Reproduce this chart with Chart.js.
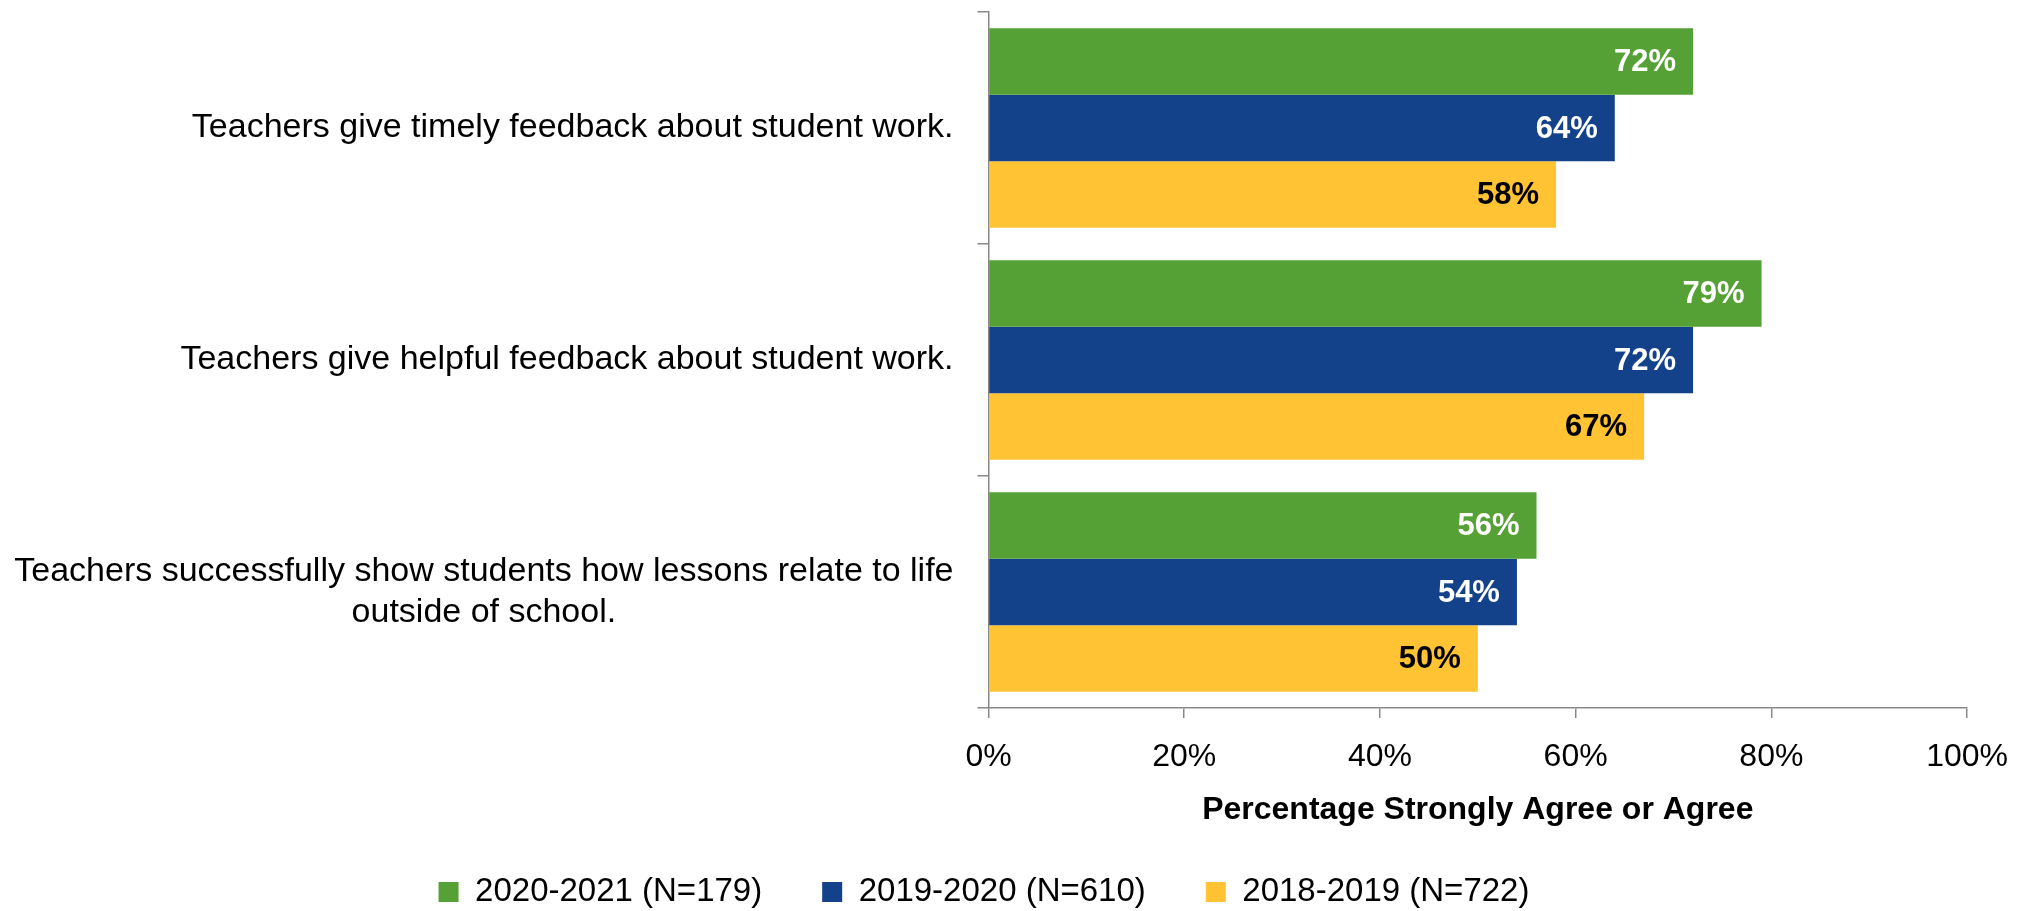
<!DOCTYPE html>
<html><head><meta charset="utf-8">
<script src="https://cdn.jsdelivr.net/npm/chart.js@4/dist/chart.umd.min.js"></script>
<style>html,body{margin:0;padding:0;background:#fff}#wrap{width:2028px;height:911px;position:relative}</style>
</head><body><div id="wrap"><canvas id="c"></canvas></div>
<script>
const categories = [
  ["Teachers give timely feedback about student work."],
  ["Teachers give helpful feedback about student work."],
  ["Teachers successfully show students how lessons relate to life", "outside of school."]
];
const seriesNames = ["2020-2021 (N=179)", "2019-2020 (N=610)", "2018-2019 (N=722)"];
const values2021 = [72, 79, 56];
const values2020 = [64, 72, 54];
const values2019 = [58, 67, 50];
const xTickValues = [0, 20, 40, 60, 80, 100];

const colors = ['#55A135', '#13428A', '#FFC333'];
const labelColors = ['#ffffff', '#ffffff', '#000000'];
const FONT = "'Liberation Sans', Arial, sans-serif";
const AXIS = '#898989';
const LEGEND_FONT = 33;
const LEGEND_PAD = 60;
const LEGEND_CENTER_Y = 892;
const PLOT_BOTTOM = 708;
const TITLE_CENTER_Y = 810;
const PAD_BOTTOM = 911 - LEGEND_CENTER_Y - LEGEND_FONT / 2 - 10;
const LEGEND_H = LEGEND_FONT + LEGEND_PAD + 10;

const dataLabelPlugin = {
  id: 'dataLabels',
  afterDatasetsDraw(chart) {
    const ctx = chart.ctx;
    ctx.save();
    ctx.font = 'bold 31px ' + FONT;
    ctx.textAlign = 'right';
    ctx.textBaseline = 'middle';
    chart.data.datasets.forEach((ds, di) => {
      const meta = chart.getDatasetMeta(di);
      meta.data.forEach((bar, i) => {
        ctx.fillStyle = labelColors[di];
        ctx.fillText(ds.data[i] + '%', bar.x - 17, bar.y + 1);
      });
    });
    ctx.restore();
  }
};

const yLabelPlugin = {
  id: 'yLabels',
  afterDraw(chart) {
    const ctx = chart.ctx;
    const ys = chart.scales.y;
    ctx.save();
    ctx.font = '34px ' + FONT;
    ctx.fillStyle = '#000';
    ctx.textAlign = 'center';
    ctx.textBaseline = 'middle';
    const xr = chart.chartArea.left - 35;
    const lineH = 41;
    categories.forEach((lines, i) => {
      const y = ys.getPixelForValue(i);
      const w = Math.max(...lines.map(l => ctx.measureText(l).width));
      const cx = xr - w / 2;
      lines.forEach((l, j) => {
        ctx.fillText(l, cx, y + (j - (lines.length - 1) / 2) * lineH);
      });
    });
    ctx.restore();
  }
};

new Chart(document.getElementById('c'), {
  type: 'bar',
  data: {
    labels: categories.map(l => l.join(' ')),
    datasets: [
      { label: seriesNames[0], data: values2021, backgroundColor: colors[0] },
      { label: seriesNames[1], data: values2020, backgroundColor: colors[1] },
      { label: seriesNames[2], data: values2019, backgroundColor: colors[2] }
    ]
  },
  options: {
    indexAxis: 'y',
    responsive: true,
    maintainAspectRatio: false,
    animation: false,
    datasets: { bar: { categoryPercentage: 0.86, barPercentage: 1.0, borderWidth: 0 } },
    layout: { padding: { top: 12, right: 60, left: 0, bottom: PAD_BOTTOM } },
    scales: {
      x: {
        min: 0, max: 100,
        afterBuildTicks(scale) { scale.ticks = xTickValues.map(v => ({ value: v })); },
        ticks: { callback: v => v + '%', font: { size: 32, family: FONT }, color: '#000', padding: 20, maxRotation: 0 },
        grid: { drawOnChartArea: false, tickLength: 10, color: AXIS, lineWidth: 1.5 },
        border: { color: AXIS, width: 1.5 },
        title: { display: true, text: 'Percentage Strongly Agree or Agree', font: { size: 32, weight: 'bold', family: FONT }, color: '#000',
                 padding: { top: 0, bottom: (911 - PAD_BOTTOM - LEGEND_H) - TITLE_CENTER_Y - 19.2 } },
        afterFit(scale) { scale.height = (911 - PAD_BOTTOM - LEGEND_H) - PLOT_BOTTOM; }
      },
      y: {
        type: 'category',
        ticks: { display: false },
        grid: { drawOnChartArea: false, offset: true, tickLength: 11, color: AXIS, lineWidth: 1.5 },
        border: { color: AXIS, width: 1.5 },
        afterFit(scale) { scale.width = 988.5; }
      }
    },
    plugins: {
      legend: {
        position: 'bottom',
        labels: { font: { size: LEGEND_FONT, family: FONT }, color: '#000', boxWidth: 20, boxHeight: 20, padding: LEGEND_PAD }
      },
      tooltip: { enabled: false }
    }
  },
  plugins: [dataLabelPlugin, yLabelPlugin]
});
</script></body></html>
